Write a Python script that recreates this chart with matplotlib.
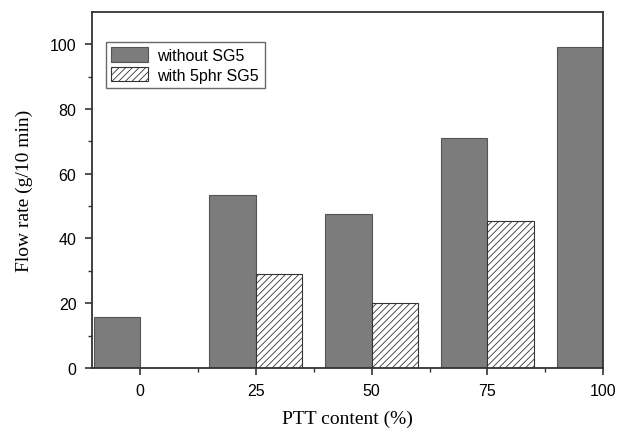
from matplotlib import pyplot as plt
import numpy as np

ptt_content = [0, 25, 50, 75, 100]
without_sg5 = [15.6, 53.3, 47.7, 71.1, 99.3]
with_sg5    = [0.0, 28.9, 20.0, 45.4, 0.0]

#--------------------------------------------------------------------------------------------------
def plot_flow_rate(output_fname='out.png'):
    plt.rcParams['hatch.linewidth'] = 0.6
    fig = plt.figure(figsize=(6.2, 4.31), dpi=100)
    ax = fig.add_axes([0.148, 0.144, 0.825, 0.826])

    x = np.array(ptt_content, dtype=float)
    w = 10.0
    ax.bar(x, without_sg5, width=-w, align='edge', color='#7c7c7c', edgecolor='#555555',
           linewidth=0.8, label='without SG5')
    ax.bar(x, with_sg5, width=w, align='edge', color='white', edgecolor='#333333',
           hatch='/////', linewidth=0.8, label='with 5phr SG5')

    ax.set_xlim(-10.4, 100)
    ax.set_ylim(0, 110)
    ax.set_xticks(ptt_content)
    ax.set_xticks([12.5, 37.5, 62.5, 87.5], minor=True)
    ax.set_yticks(np.arange(0, 101, 20))
    ax.set_yticks(np.arange(10, 100, 20), minor=True)

    tick_font = dict(family='Liberation Sans', size=11.5)
    ax.set_xticklabels([str(v) for v in ptt_content], **tick_font)
    ax.set_yticklabels([str(v) for v in range(0, 101, 20)], **tick_font)
    ax.tick_params(which='major', direction='out', length=5, width=1.2, color='#333333', pad=6)
    ax.tick_params(which='minor', direction='out', length=3, width=1.0, color='#333333')
    ax.tick_params(top=False, right=False)

    for sp in ax.spines.values():
        sp.set_linewidth(1.3)
        sp.set_color('#333333')

    label_font = dict(family='Liberation Serif', size=14)
    ax.set_xlabel('PTT content (%)', labelpad=8, **label_font)
    ax.set_ylabel('Flow rate (g/10 min)', labelpad=12, **label_font)

    leg = ax.legend(loc='upper left', bbox_to_anchor=(0.027, 0.916), borderaxespad=0,
                    frameon=True, fancybox=False,
                    prop=dict(family='Liberation Sans', size=11.5), handlelength=2.3,
                    handleheight=1.0, borderpad=0.35, labelspacing=0.25, handletextpad=0.6,
                    edgecolor='#444444')
    leg.get_frame().set_linewidth(1.0)

    plt.savefig(output_fname, dpi=100)
#--------------------------------------------------------------------------------------------------

#--------------------------------------------------------------------------------------------------
def main():
    plot_flow_rate()
#--------------------------------------------------------------------------------------------------

if __name__=='__main__':
    main()
